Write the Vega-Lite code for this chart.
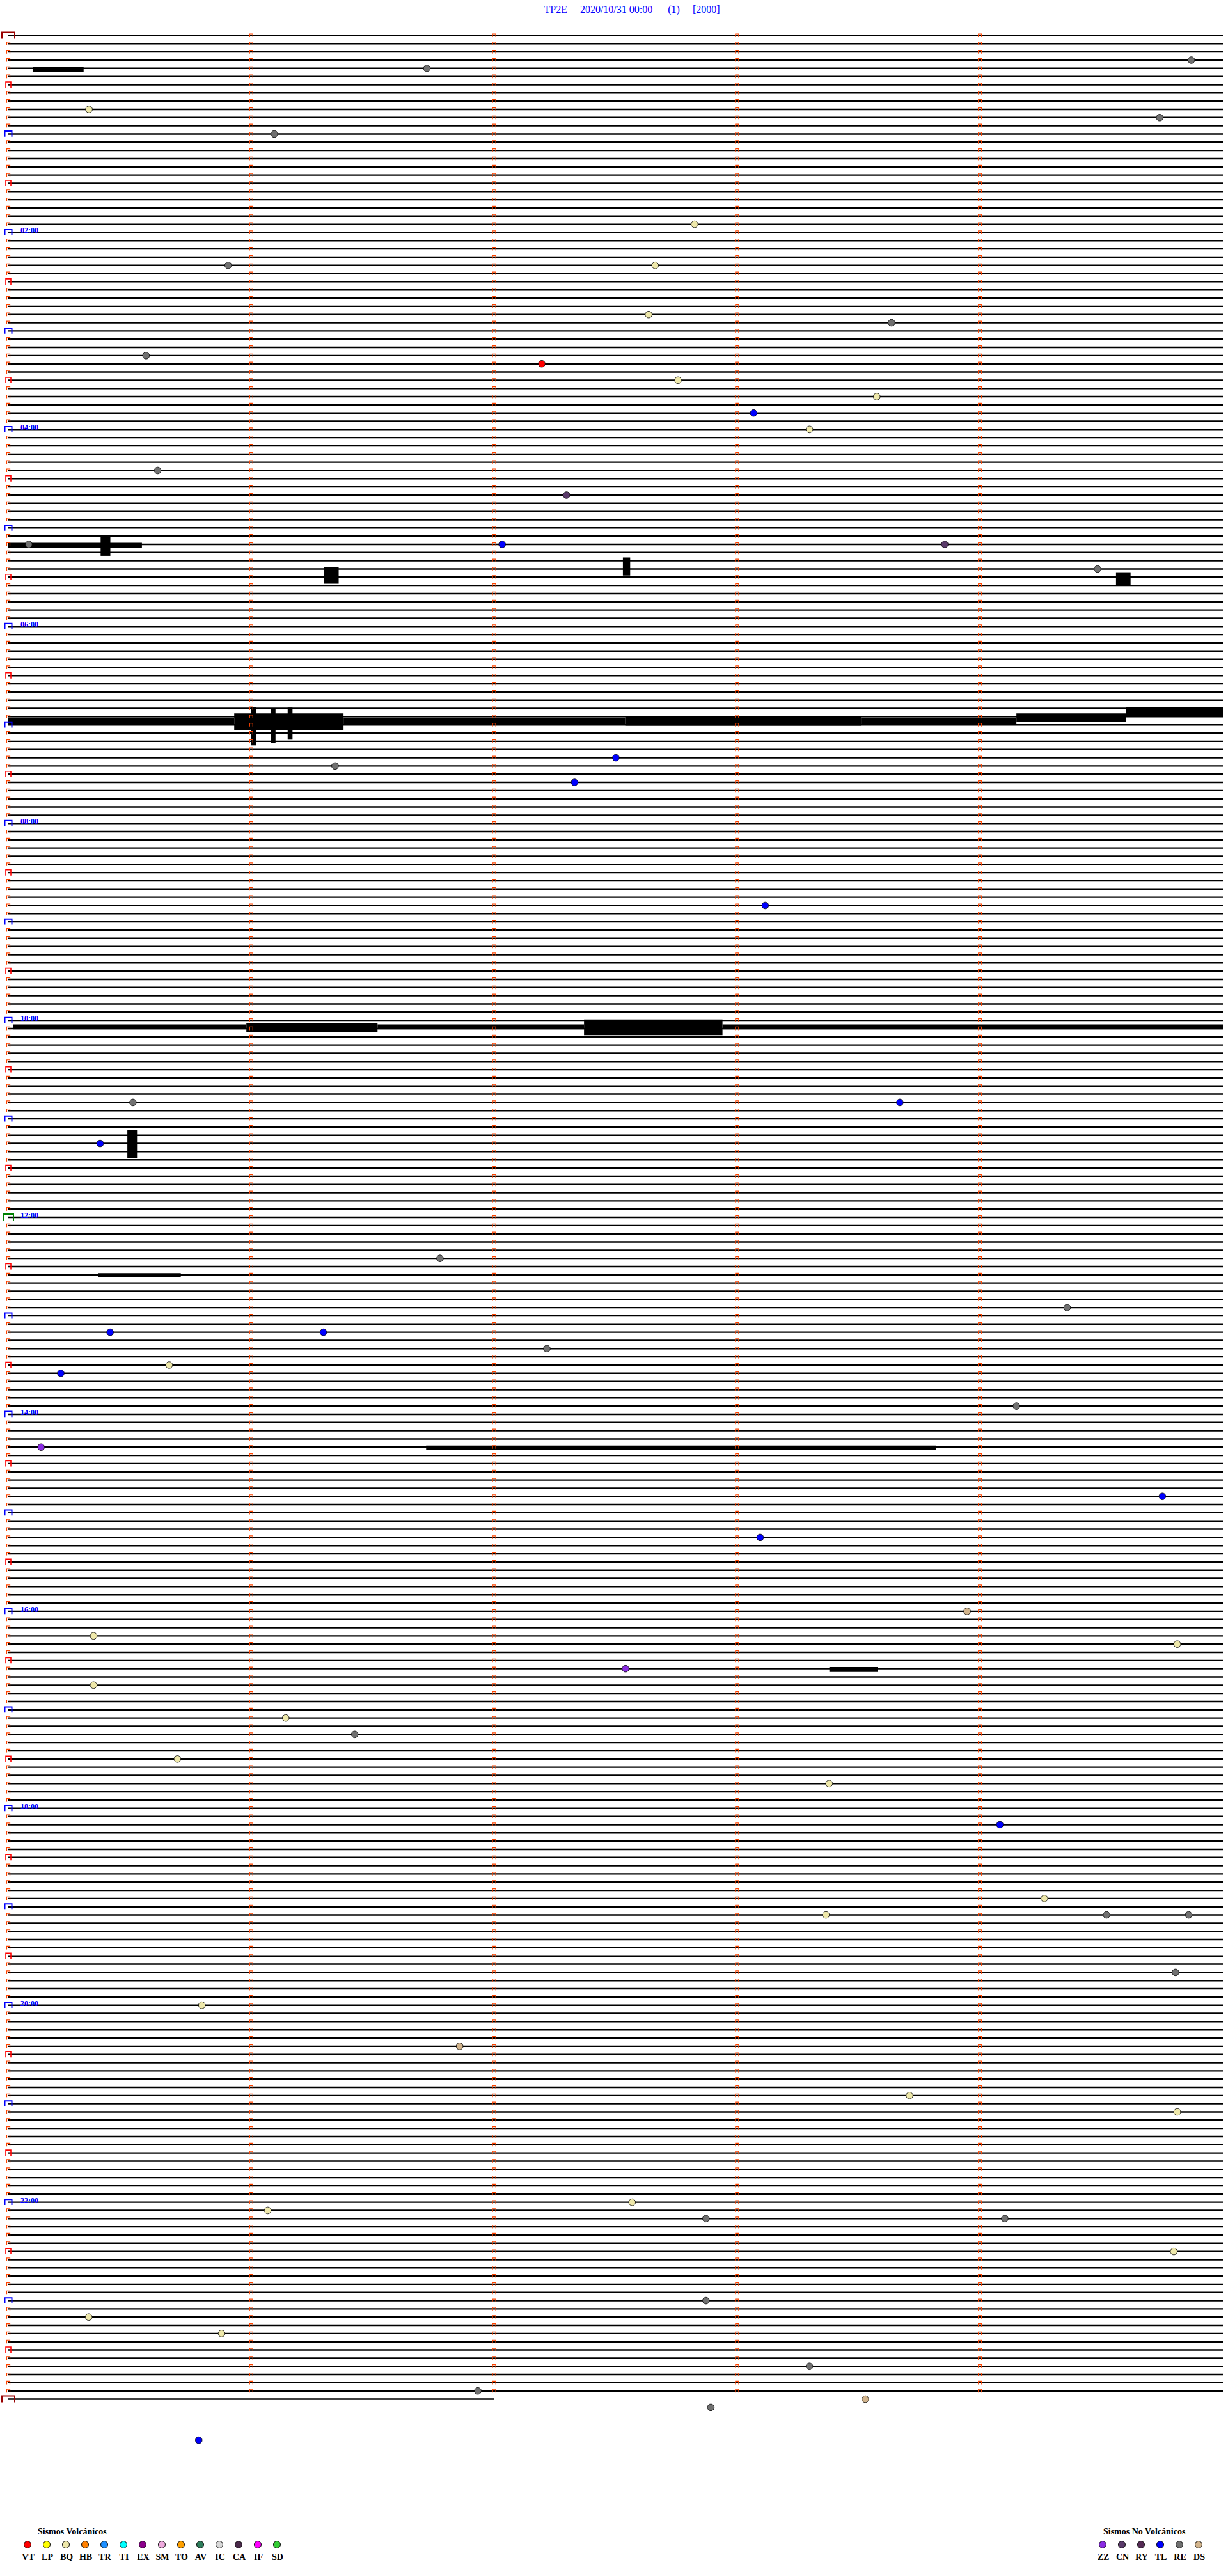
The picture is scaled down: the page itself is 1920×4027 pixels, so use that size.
{
"$schema":"https://vega.github.io/schema/vega-lite/v6.json",
"autosize":{"type":"none"},
"width":1920,"height":4027,"padding":0,
"background":"white",
"title":{"text":"TP2E\u00a0\u00a0\u00a0\u00a0\u00a02020/10/31 00:00\u00a0\u00a0\u00a0\u00a0\u00a0\u00a0(1)\u00a0\u00a0\u00a0\u00a0\u00a0[2000]","font":"Liberation Serif","fontSize":16,"fontWeight":"normal","color":"#0000FF","anchor":"middle","offset":-13,"baseline":"middle","dx":28,"dy":18},
"config":{"view":{"stroke":null}},
"datasets":{
"rows":[{"r":0},{"r":1},{"r":2},{"r":3},{"r":4},{"r":5},{"r":6},{"r":7},{"r":8},{"r":9},{"r":10},{"r":11},{"r":12},{"r":13},{"r":14},{"r":15},{"r":16},{"r":17},{"r":18},{"r":19},{"r":20},{"r":21},{"r":22},{"r":23},{"r":24},{"r":25},{"r":26},{"r":27},{"r":28},{"r":29},{"r":30},{"r":31},{"r":32},{"r":33},{"r":34},{"r":35},{"r":36},{"r":37},{"r":38},{"r":39},{"r":40},{"r":41},{"r":42},{"r":43},{"r":44},{"r":45},{"r":46},{"r":47},{"r":48},{"r":49},{"r":50},{"r":51},{"r":52},{"r":53},{"r":54},{"r":55},{"r":56},{"r":57},{"r":58},{"r":59},{"r":60},{"r":61},{"r":62},{"r":63},{"r":64},{"r":65},{"r":66},{"r":67},{"r":68},{"r":69},{"r":70},{"r":71},{"r":72},{"r":73},{"r":74},{"r":75},{"r":76},{"r":77},{"r":78},{"r":79},{"r":80},{"r":81},{"r":82},{"r":83},{"r":84},{"r":85},{"r":86},{"r":87},{"r":88},{"r":89},{"r":90},{"r":91},{"r":92},{"r":93},{"r":94},{"r":95},{"r":96},{"r":97},{"r":98},{"r":99},{"r":100},{"r":101},{"r":102},{"r":103},{"r":104},{"r":105},{"r":106},{"r":107},{"r":108},{"r":109},{"r":110},{"r":111},{"r":112},{"r":113},{"r":114},{"r":115},{"r":116},{"r":117},{"r":118},{"r":119},{"r":120},{"r":121},{"r":122},{"r":123},{"r":124},{"r":125},{"r":126},{"r":127},{"r":128},{"r":129},{"r":130},{"r":131},{"r":132},{"r":133},{"r":134},{"r":135},{"r":136},{"r":137},{"r":138},{"r":139},{"r":140},{"r":141},{"r":142},{"r":143},{"r":144},{"r":145},{"r":146},{"r":147},{"r":148},{"r":149},{"r":150},{"r":151},{"r":152},{"r":153},{"r":154},{"r":155},{"r":156},{"r":157},{"r":158},{"r":159},{"r":160},{"r":161},{"r":162},{"r":163},{"r":164},{"r":165},{"r":166},{"r":167},{"r":168},{"r":169},{"r":170},{"r":171},{"r":172},{"r":173},{"r":174},{"r":175},{"r":176},{"r":177},{"r":178},{"r":179},{"r":180},{"r":181},{"r":182},{"r":183},{"r":184},{"r":185},{"r":186},{"r":187},{"r":188},{"r":189},{"r":190},{"r":191},{"r":192},{"r":193},{"r":194},{"r":195},{"r":196},{"r":197},{"r":198},{"r":199},{"r":200},{"r":201},{"r":202},{"r":203},{"r":204},{"r":205},{"r":206},{"r":207},{"r":208},{"r":209},{"r":210},{"r":211},{"r":212},{"r":213},{"r":214},{"r":215},{"r":216},{"r":217},{"r":218},{"r":219},{"r":220},{"r":221},{"r":222},{"r":223},{"r":224},{"r":225},{"r":226},{"r":227},{"r":228},{"r":229},{"r":230},{"r":231},{"r":232},{"r":233},{"r":234},{"r":235},{"r":236},{"r":237},{"r":238},{"r":239},{"r":240},{"r":241},{"r":242},{"r":243},{"r":244},{"r":245},{"r":246},{"r":247},{"r":248},{"r":249},{"r":250},{"r":251},{"r":252},{"r":253},{"r":254},{"r":255},{"r":256},{"r":257},{"r":258},{"r":259},{"r":260},{"r":261},{"r":262},{"r":263},{"r":264},{"r":265},{"r":266},{"r":267},{"r":268},{"r":269},{"r":270},{"r":271},{"r":272},{"r":273},{"r":274},{"r":275},{"r":276},{"r":277},{"r":278},{"r":279},{"r":280},{"r":281},{"r":282},{"r":283},{"r":284},{"r":285},{"r":286},{"r":287},{"r":288}],
"hours":[{"r":24,"t":"02:00"},{"r":48,"t":"04:00"},{"r":72,"t":"06:00"},{"r":96,"t":"08:00"},{"r":120,"t":"10:00"},{"r":144,"t":"12:00"},{"r":168,"t":"14:00"},{"r":192,"t":"16:00"},{"r":216,"t":"18:00"},{"r":240,"t":"20:00"},{"r":264,"t":"22:00"}],
"bursts":[
{"a":0.10,"b":0.31,"lo":3.8,"hi":4.4},
{"a":0.0,"b":0.55,"lo":61.8,"hi":62.4},{"a":0.38,"b":0.42,"lo":61.0,"hi":63.4},
{"a":1.30,"b":1.36,"lo":64.8,"hi":66.8},{"a":2.53,"b":2.56,"lo":63.6,"hi":65.8},{"a":4.56,"b":4.62,"lo":65.4,"hi":67.0},
{"a":0.0,"b":0.93,"lo":83.1,"hi":83.9},{"a":0.93,"b":1.38,"lo":82.6,"hi":84.6},{"a":1.0,"b":1.02,"lo":81.8,"hi":86.5},{"a":1.08,"b":1.10,"lo":82.0,"hi":86.2},{"a":1.15,"b":1.17,"lo":81.9,"hi":85.8},
{"a":1.38,"b":2.54,"lo":83.1,"hi":83.9},{"a":2.54,"b":3.51,"lo":82.9,"hi":84.1},{"a":3.51,"b":4.15,"lo":83.1,"hi":83.9},{"a":4.15,"b":4.6,"lo":82.6,"hi":83.6},{"a":4.6,"b":5.0,"lo":81.8,"hi":82.9},
{"a":0.02,"b":0.98,"lo":120.5,"hi":121.1},{"a":0.98,"b":1.52,"lo":120.3,"hi":121.4},{"a":1.52,"b":2.37,"lo":120.5,"hi":121.1},{"a":2.37,"b":2.94,"lo":119.9,"hi":121.8},{"a":2.94,"b":5.0,"lo":120.5,"hi":121.1},
{"a":0.49,"b":0.53,"lo":133.4,"hi":136.8},
{"a":0.37,"b":0.71,"lo":150.8,"hi":151.3},
{"a":1.72,"b":3.82,"lo":171.8,"hi":172.3},
{"a":3.38,"b":3.58,"lo":198.8,"hi":199.4}
],
"events":[
{"m":1.723,"r":4,"t":"RE"},{"m":4.87,"r":3,"t":"RE"},{"m":0.332,"r":9,"t":"BQ"},{"m":4.74,"r":10,"t":"RE"},{"m":1.095,"r":12,"t":"RE"},
{"m":2.825,"r":23,"t":"BQ"},{"m":2.663,"r":28,"t":"BQ"},{"m":0.905,"r":28,"t":"RE"},{"m":2.636,"r":34,"t":"BQ"},{"m":3.636,"r":35,"t":"RE"},
{"m":0.567,"r":39,"t":"RE"},{"m":2.196,"r":40,"t":"VT"},{"m":2.757,"r":42,"t":"BQ"},{"m":3.575,"r":44,"t":"BQ"},{"m":3.068,"r":46,"t":"TL"},
{"m":3.298,"r":48,"t":"BQ"},{"m":0.615,"r":53,"t":"RE"},{"m":2.298,"r":56,"t":"CN"},{"m":2.033,"r":62,"t":"TL"},{"m":3.855,"r":62,"t":"CN"},
{"m":0.084,"r":62,"t":"RE"},{"m":4.484,"r":65,"t":"RE"},{"m":2.501,"r":88,"t":"TL"},{"m":1.345,"r":89,"t":"RE"},{"m":2.331,"r":91,"t":"TL"},
{"m":3.116,"r":106,"t":"TL"},{"m":3.670,"r":130,"t":"TL"},{"m":0.513,"r":130,"t":"RE"},{"m":0.378,"r":135,"t":"TL"},{"m":1.777,"r":149,"t":"RE"},
{"m":4.359,"r":155,"t":"RE"},{"m":0.419,"r":158,"t":"TL"},{"m":1.297,"r":158,"t":"TL"},{"m":2.217,"r":160,"t":"RE"},{"m":0.662,"r":162,"t":"BQ"},
{"m":0.216,"r":163,"t":"TL"},{"m":4.150,"r":167,"t":"RE"},{"m":0.135,"r":172,"t":"ZZ"},{"m":4.751,"r":178,"t":"TL"},{"m":3.095,"r":183,"t":"TL"},
{"m":3.947,"r":192,"t":"DS"},{"m":0.351,"r":195,"t":"BQ"},{"m":4.812,"r":196,"t":"BQ"},{"m":2.541,"r":199,"t":"ZZ"},{"m":0.351,"r":201,"t":"BQ"},
{"m":1.142,"r":205,"t":"BQ"},{"m":1.426,"r":207,"t":"RE"},{"m":0.696,"r":210,"t":"BQ"},{"m":3.379,"r":213,"t":"BQ"},{"m":4.082,"r":218,"t":"TL"},
{"m":4.265,"r":227,"t":"BQ"},{"m":4.521,"r":229,"t":"RE"},{"m":4.859,"r":229,"t":"RE"},{"m":3.366,"r":229,"t":"BQ"},{"m":4.805,"r":236,"t":"RE"},
{"m":0.797,"r":240,"t":"BQ"},{"m":1.858,"r":245,"t":"DS"},{"m":3.710,"r":251,"t":"BQ"},{"m":4.812,"r":253,"t":"BQ"},{"m":2.568,"r":264,"t":"BQ"},
{"m":1.068,"r":265,"t":"BQ"},{"m":2.872,"r":266,"t":"RE"},{"m":4.102,"r":266,"t":"RE"},{"m":4.798,"r":270,"t":"BQ"},{"m":2.872,"r":276,"t":"RE"},
{"m":0.331,"r":278,"t":"BQ"},{"m":0.878,"r":280,"t":"BQ"},{"m":3.298,"r":284,"t":"RE"},{"m":1.933,"r":287,"t":"RE"},{"m":2.892,"r":289,"t":"RE"},
{"m":3.528,"r":288,"t":"DS"},{"m":0.784,"r":293,"t":"TL"}
]
},
"layer":[
{"data":{"name":"rows"},"transform":[{"filter":"datum.r<288"}],"mark":{"type":"rule","stroke":"black","strokeWidth":2.4},
 "encoding":{"x":{"datum":0,"type":"quantitative","scale":{"domain":[-0.03423,5.02106],"nice":false,"zero":false},"axis":null},"x2":{"datum":5},
 "y":{"field":"r","type":"quantitative","scale":{"domain":[-4.3258,309.548],"nice":false,"zero":false,"reverse":true},"axis":null}}},
{"data":{"name":"rows"},"transform":[{"filter":"datum.r==288"}],"mark":{"type":"rule","stroke":"black","strokeWidth":2.4},
 "encoding":{"x":{"datum":0,"type":"quantitative","scale":{"domain":[-0.03423,5.02106],"nice":false,"zero":false},"axis":null},"x2":{"datum":2},
 "y":{"field":"r","type":"quantitative","scale":{"domain":[-4.3258,309.548],"nice":false,"zero":false,"reverse":true},"axis":null}}},
{"data":{"name":"bursts"},"mark":{"type":"rect","fill":"black"},
 "encoding":{"x":{"field":"a","type":"quantitative","scale":{"domain":[-0.03423,5.02106],"nice":false,"zero":false},"axis":null},"x2":{"field":"b"},
 "y":{"field":"lo","type":"quantitative","scale":{"domain":[-4.3258,309.548],"nice":false,"zero":false,"reverse":true},"axis":null},"y2":{"field":"hi"}}},
{"data":{"name":"rows"},"transform":[{"filter":"datum.r<288"}],"mark":{"type":"point","shape":"M-1,1L-1,-1L1,-1L1,1","size":25,"filled":false,"stroke":"#FF4500","strokeWidth":1.2,"opacity":1,"dy":-1.5},
 "encoding":{"x":{"datum":1,"type":"quantitative","scale":{"domain":[-0.03423,5.02106],"nice":false,"zero":false},"axis":null},
 "y":{"field":"r","type":"quantitative","scale":{"domain":[-4.3258,309.548],"nice":false,"zero":false,"reverse":true},"axis":null}}},
{"data":{"name":"rows"},"transform":[{"filter":"datum.r<288"}],"mark":{"type":"point","shape":"M-1,1L-1,-1L1,-1L1,1","size":25,"filled":false,"stroke":"#FF4500","strokeWidth":1.2,"opacity":1,"dy":-1.5},
 "encoding":{"x":{"datum":2,"type":"quantitative","scale":{"domain":[-0.03423,5.02106],"nice":false,"zero":false},"axis":null},
 "y":{"field":"r","type":"quantitative","scale":{"domain":[-4.3258,309.548],"nice":false,"zero":false,"reverse":true},"axis":null}}},
{"data":{"name":"rows"},"transform":[{"filter":"datum.r<288"}],"mark":{"type":"point","shape":"M-1,1L-1,-1L1,-1L1,1","size":25,"filled":false,"stroke":"#FF4500","strokeWidth":1.2,"opacity":1,"dy":-1.5},
 "encoding":{"x":{"datum":3,"type":"quantitative","scale":{"domain":[-0.03423,5.02106],"nice":false,"zero":false},"axis":null},
 "y":{"field":"r","type":"quantitative","scale":{"domain":[-4.3258,309.548],"nice":false,"zero":false,"reverse":true},"axis":null}}},
{"data":{"name":"rows"},"transform":[{"filter":"datum.r<288"}],"mark":{"type":"point","shape":"M-1,1L-1,-1L1,-1L1,1","size":25,"filled":false,"stroke":"#FF4500","strokeWidth":1.2,"opacity":1,"dy":-1.5},
 "encoding":{"x":{"datum":4,"type":"quantitative","scale":{"domain":[-0.03423,5.02106],"nice":false,"zero":false},"axis":null},
 "y":{"field":"r","type":"quantitative","scale":{"domain":[-4.3258,309.548],"nice":false,"zero":false,"reverse":true},"axis":null}}},
{"data":{"name":"rows"},"transform":[{"filter":"datum.r%6!=0"}],"mark":{"type":"point","shape":"M-1,1L-1,-1L1,-1L1,1","size":25,"filled":false,"stroke":"#FF4500","strokeWidth":1.2,"opacity":1,"dy":-1.5},
 "encoding":{"x":{"datum":0,"type":"quantitative","scale":{"domain":[-0.03423,5.02106],"nice":false,"zero":false},"axis":null},
 "y":{"field":"r","type":"quantitative","scale":{"domain":[-4.3258,309.548],"nice":false,"zero":false,"reverse":true},"axis":null}}},
{"data":{"name":"rows"},"transform":[{"filter":"datum.r%12==6"}],"mark":{"type":"point","shape":"M-0.89,1L-0.89,-1L0.89,-1L0.89,1","size":81,"filled":false,"stroke":"#FF0000","strokeWidth":1.6,"opacity":1,"dx":1,"dy":-3},
 "encoding":{"x":{"datum":0,"type":"quantitative","scale":{"domain":[-0.03423,5.02106],"nice":false,"zero":false},"axis":null},
 "y":{"field":"r","type":"quantitative","scale":{"domain":[-4.3258,309.548],"nice":false,"zero":false,"reverse":true},"axis":null}}},
{"data":{"name":"rows"},"transform":[{"filter":"datum.r%12==0 && datum.r%144!=0"}],"mark":{"type":"point","shape":"M-1,0.8L-1,-0.8L1,-0.8L1,0.8","size":121,"filled":false,"stroke":"#0000FF","strokeWidth":2,"opacity":1,"dx":2,"dy":-2.5},
 "encoding":{"x":{"datum":0,"type":"quantitative","scale":{"domain":[-0.03423,5.02106],"nice":false,"zero":false},"axis":null},
 "y":{"field":"r","type":"quantitative","scale":{"domain":[-4.3258,309.548],"nice":false,"zero":false,"reverse":true},"axis":null}}},
{"data":{"name":"rows"},"transform":[{"filter":"datum.r==144"}],"mark":{"type":"point","shape":"M-1,0.625L-1,-0.625L1,-0.625L1,0.625","size":256,"filled":false,"stroke":"#008000","strokeWidth":2,"opacity":1,"dx":4,"dy":-4},
 "encoding":{"x":{"datum":0,"type":"quantitative","scale":{"domain":[-0.03423,5.02106],"nice":false,"zero":false},"axis":null},
 "y":{"field":"r","type":"quantitative","scale":{"domain":[-4.3258,309.548],"nice":false,"zero":false,"reverse":true},"axis":null}}},
{"data":{"name":"rows"},"transform":[{"filter":"datum.r%288==0"}],"mark":{"type":"point","shape":"M-1,0.5L-1,-0.5L1,-0.5L1,0.5","size":400,"filled":false,"stroke":"#990000","strokeWidth":2,"opacity":1,"dx":7,"dy":-3.5},
 "encoding":{"x":{"datum":0,"type":"quantitative","scale":{"domain":[-0.03423,5.02106],"nice":false,"zero":false},"axis":null},
 "y":{"field":"r","type":"quantitative","scale":{"domain":[-4.3258,309.548],"nice":false,"zero":false,"reverse":true},"axis":null}}},
{"data":{"name":"hours"},"mark":{"type":"text","align":"left","baseline":"middle","dx":19,"dy":-3,"font":"Liberation Serif","fontSize":12,"fontWeight":"bold","fill":"#0000FF"},
 "encoding":{"x":{"datum":0,"type":"quantitative","scale":{"domain":[-0.03423,5.02106],"nice":false,"zero":false},"axis":null},
 "y":{"field":"r","type":"quantitative","scale":{"domain":[-4.3258,309.548],"nice":false,"zero":false,"reverse":true},"axis":null},"text":{"field":"t"}}},
{"data":{"name":"events"},"transform":[{"filter":{"field":"t","oneOf":["VT","LP","BQ","HB","TR","TI","EX","SM","TO","AV","IC","CA","IF","SD"]}}],
 "mark":{"type":"point","shape":"circle","size":113,"filled":true,"stroke":"black","strokeWidth":0.8,"opacity":1},
 "encoding":{"x":{"field":"m","type":"quantitative","scale":{"domain":[-0.03423,5.02106],"nice":false,"zero":false},"axis":null},
 "y":{"field":"r","type":"quantitative","scale":{"domain":[-4.3258,309.548],"nice":false,"zero":false,"reverse":true},"axis":null},
 "fill":{"field":"t","type":"nominal","scale":{"domain":["VT","LP","BQ","HB","TR","TI","EX","SM","TO","AV","IC","CA","IF","SD"],"range":["#FF0000","#FFFF00","#EEE8AA","#FF8000","#1E90FF","#00FFFF","#8B008B","#EEAADD","#FFA000","#2E7D5B","#D8D8D8","#4A2A4A","#FF00FF","#33CC33"]},
  "legend":{"title":"Sismos Volcánicos","orient":"none","legendX":36,"legendY":3951,"direction":"horizontal","columns":14,"padding":0,
   "symbolType":"circle","symbolSize":120,"symbolStrokeColor":"black","symbolStrokeWidth":1,"symbolOpacity":1,
   "labelFont":"Liberation Serif","labelFontSize":14,"labelFontWeight":"bold","labelColor":"black","labelAlign":"center","labelBaseline":"middle","labelOffset":-6,
   "titleFont":"Liberation Serif","titleFontSize":14,"titleFontWeight":"bold","titleColor":"black","titlePadding":6,"columnPadding":8,"gridAlign":"all",
   "encode":{"labels":{"update":{"dy":{"value":20}}},"title":{"update":{"dx":{"value":23}}}}}}}},
{"data":{"name":"events"},"transform":[{"filter":{"field":"t","oneOf":["ZZ","CN","RY","TL","RE","DS"]}}],
 "mark":{"type":"point","shape":"circle","size":113,"filled":true,"stroke":"black","strokeWidth":0.8,"opacity":1},
 "encoding":{"x":{"field":"m","type":"quantitative","scale":{"domain":[-0.03423,5.02106],"nice":false,"zero":false},"axis":null},
 "y":{"field":"r","type":"quantitative","scale":{"domain":[-4.3258,309.548],"nice":false,"zero":false,"reverse":true},"axis":null},
 "fill":{"field":"t","type":"nominal","scale":{"domain":["ZZ","CN","RY","TL","RE","DS"],"range":["#8A2BE2","#5A3A6A","#552B55","#0000FF","#707070","#D2B48C"]},
  "legend":{"title":"Sismos No Volcánicos","orient":"none","legendX":1717,"legendY":3951,"direction":"horizontal","columns":6,"padding":0,
   "symbolType":"circle","symbolSize":120,"symbolStrokeColor":"black","symbolStrokeWidth":1,"symbolOpacity":1,
   "labelFont":"Liberation Serif","labelFontSize":14,"labelFontWeight":"bold","labelColor":"black","labelAlign":"center","labelBaseline":"middle","labelOffset":-6,
   "titleFont":"Liberation Serif","titleFontSize":14,"titleFontWeight":"bold","titleColor":"black","titlePadding":6,"columnPadding":8,"gridAlign":"all",
   "encode":{"labels":{"update":{"dy":{"value":20}}},"title":{"update":{"dx":{"value":8}}}}}}}}
],
"resolve":{"scale":{"fill":"independent"},"legend":{"fill":"independent"}}
}
